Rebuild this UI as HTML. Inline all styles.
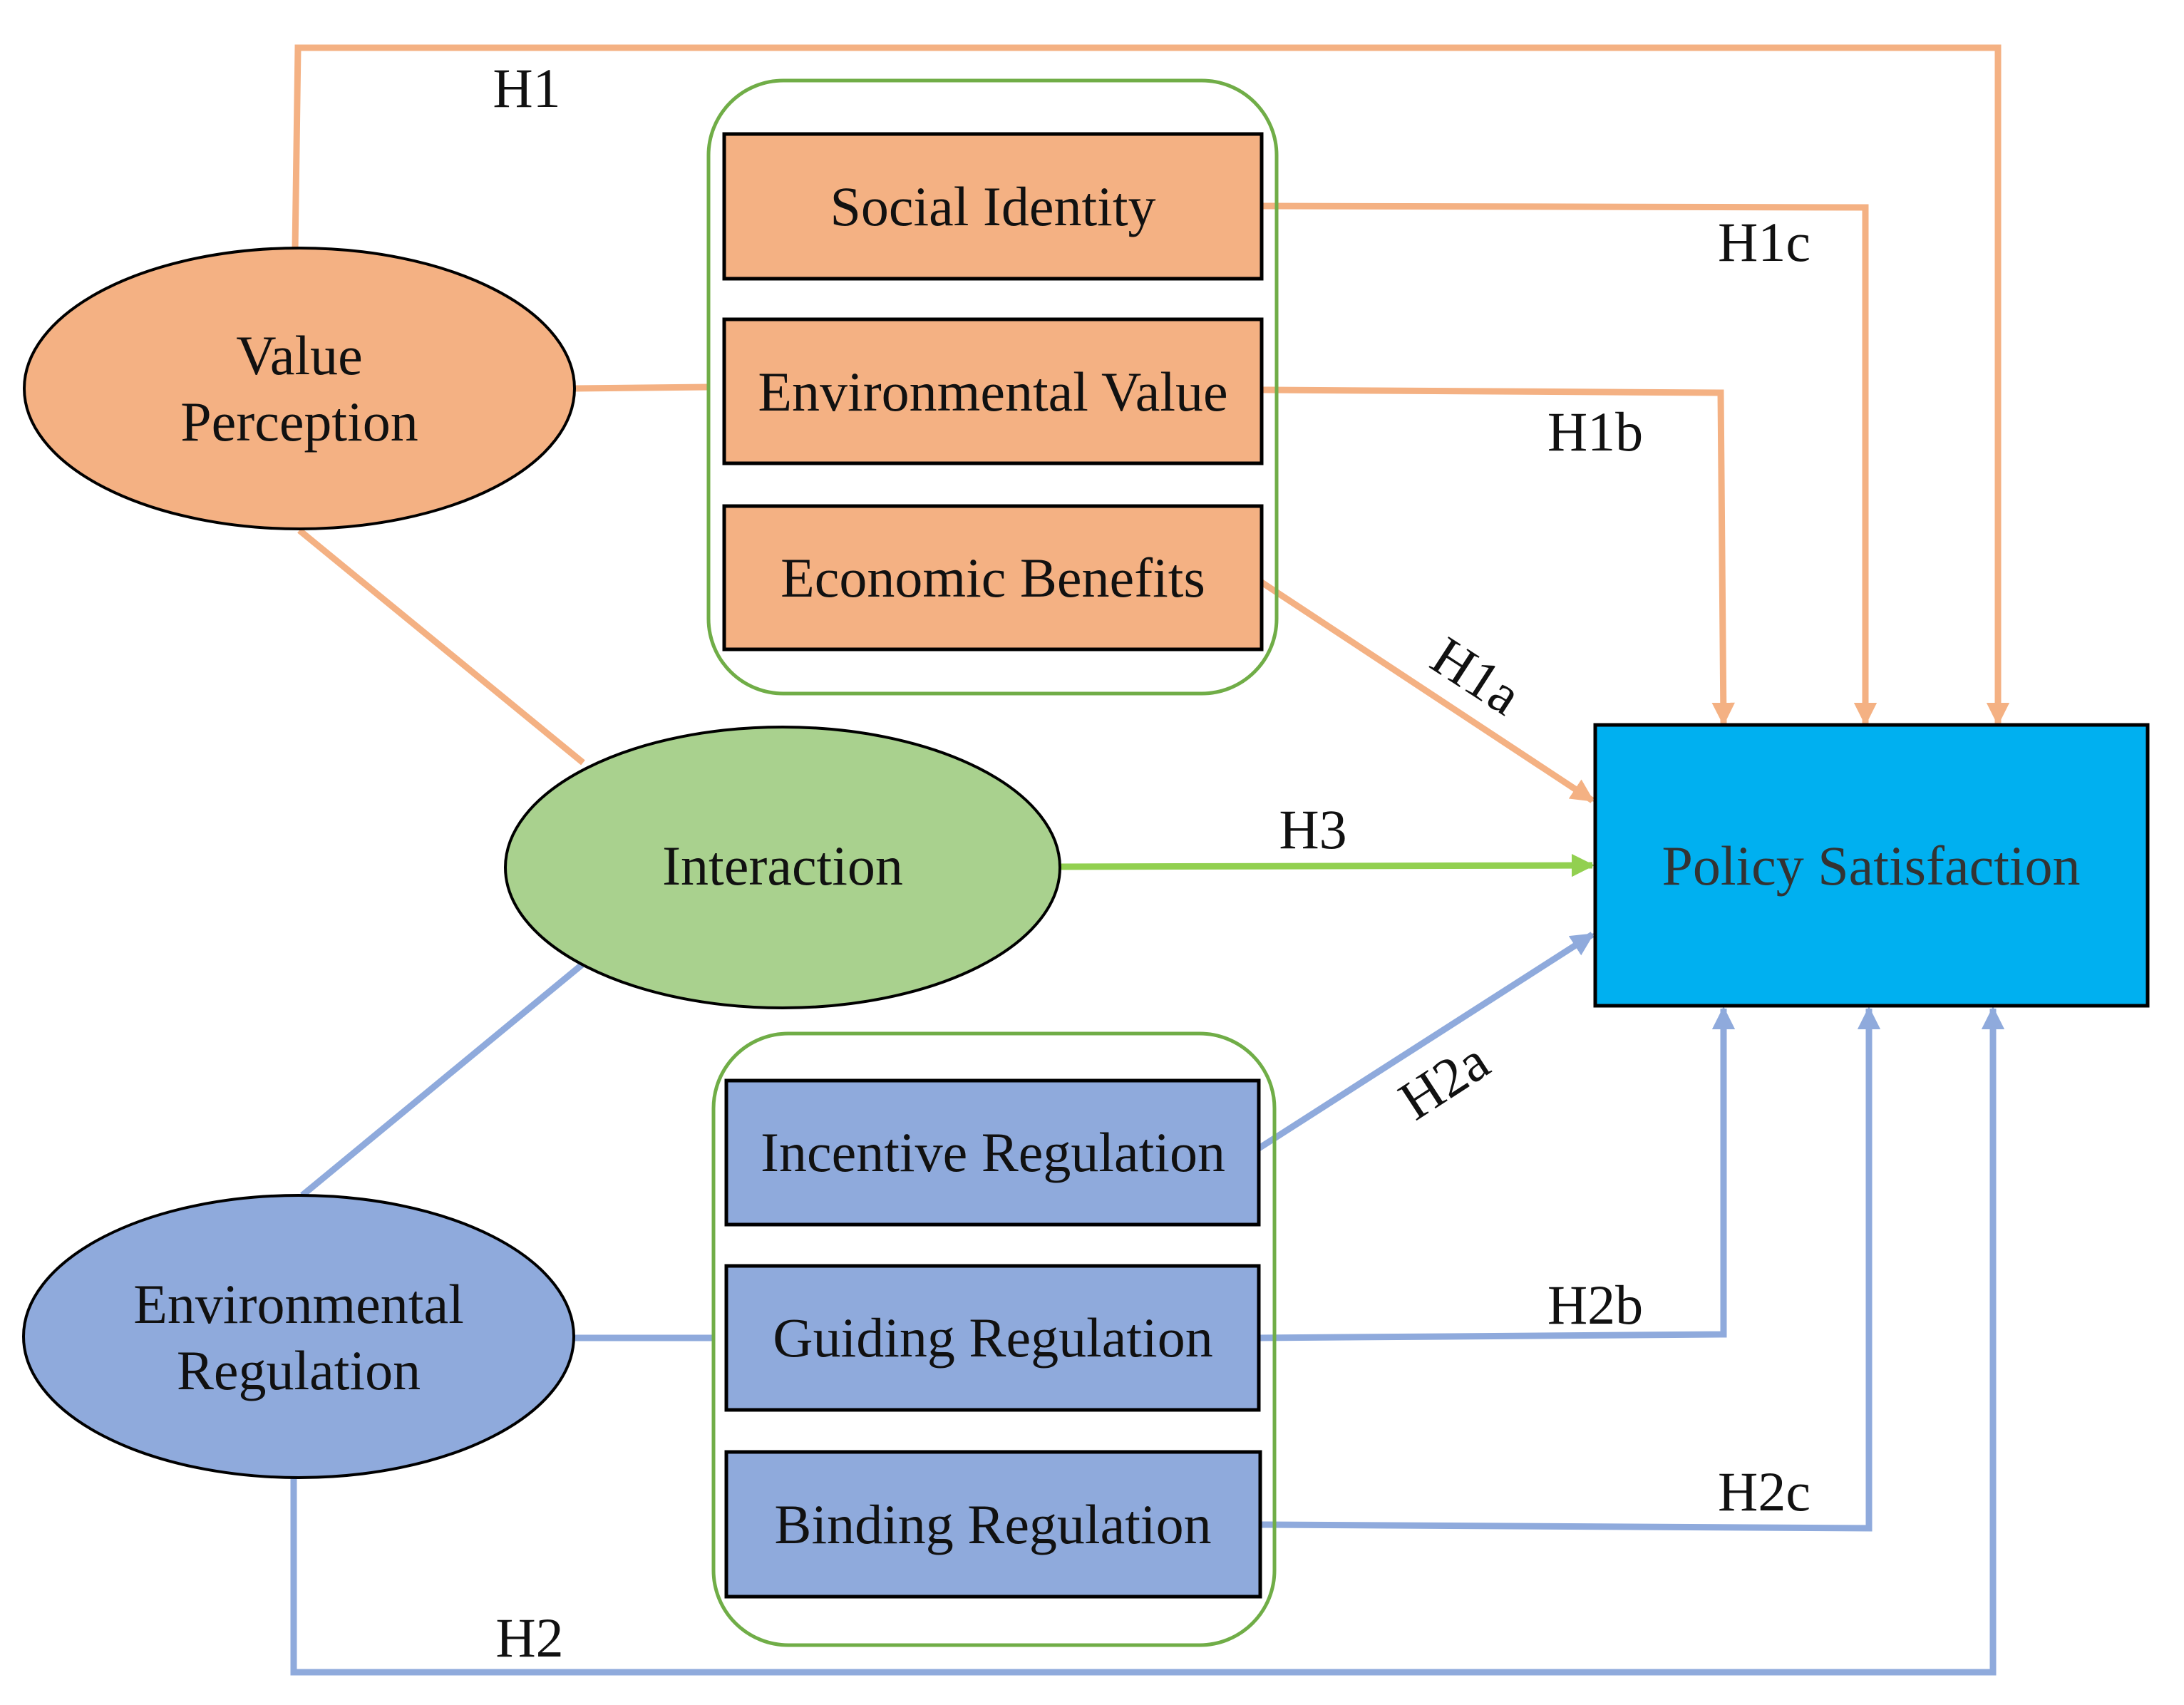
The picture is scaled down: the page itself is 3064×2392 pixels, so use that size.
<!DOCTYPE html>
<html><head><meta charset="utf-8"><style>
html,body{margin:0;padding:0;background:#fff}
svg{display:block}
text{font-family:"Liberation Serif",serif;fill:#111}
</style></head><body>
<svg width="3064" height="2392" viewBox="0 0 3064 2392" xmlns="http://www.w3.org/2000/svg">
<defs>
<marker id="ao" viewBox="0 0 10 10" refX="9" refY="5" markerWidth="3.6" markerHeight="3.6" orient="auto"><path d="M0,0L10,5L0,10z" fill="#F4B183"/></marker>
<marker id="ag" viewBox="0 0 10 10" refX="9" refY="5" markerWidth="3.6" markerHeight="3.6" orient="auto"><path d="M0,0L10,5L0,10z" fill="#92D050"/></marker>
<marker id="ab" viewBox="0 0 10 10" refX="9" refY="5" markerWidth="3.6" markerHeight="3.6" orient="auto"><path d="M0,0L10,5L0,10z" fill="#8FAADC"/></marker>
</defs>
<g fill="none" stroke-width="9" stroke-linejoin="miter">
<polyline points="414,350 418,67 2803,67 2803,1015" stroke="#F4B183" marker-end="url(#ao)"/>
<polyline points="1770,289 2617,291 2617,1015" stroke="#F4B183" marker-end="url(#ao)"/>
<polyline points="1770,547 2414,551 2418,1015" stroke="#F4B183" marker-end="url(#ao)"/>
<line x1="1764" y1="813" x2="2234" y2="1123" stroke="#F4B183" marker-end="url(#ao)"/>
<line x1="806" y1="545" x2="994" y2="543" stroke="#F4B183"/>
<line x1="420" y1="744" x2="818" y2="1070" stroke="#F4B183"/>
<line x1="1484" y1="1216" x2="2234" y2="1214" stroke="#92D050" marker-end="url(#ag)"/>
<line x1="1766" y1="1611" x2="2234" y2="1311" stroke="#8FAADC" marker-end="url(#ab)"/>
<polyline points="1766,1877 2418,1872 2418,1415" stroke="#8FAADC" marker-end="url(#ab)"/>
<polyline points="1769,2139 2622,2144 2622,1415" stroke="#8FAADC" marker-end="url(#ab)"/>
<polyline points="412,2072 412,2346 2796,2346 2796,1415" stroke="#8FAADC" marker-end="url(#ab)"/>
<line x1="805" y1="1877" x2="1003" y2="1877" stroke="#8FAADC"/>
<line x1="817" y1="1353" x2="424" y2="1677" stroke="#8FAADC"/>
</g>
<rect x="994" y="113" width="797" height="860" rx="105" fill="none" stroke="#70AD47" stroke-width="5"/>
<rect x="1001" y="1450" width="787" height="858" rx="105" fill="none" stroke="#70AD47" stroke-width="5"/>
<g fill="#F4B183" stroke="#000" stroke-width="5">
<rect x="1016" y="188" width="754" height="203"/>
<rect x="1016" y="448" width="754" height="202"/>
<rect x="1016" y="710" width="754" height="201"/>
</g>
<g fill="#8FAADC" stroke="#000" stroke-width="5">
<rect x="1019" y="1516" width="747" height="202"/>
<rect x="1019" y="1776" width="747" height="202"/>
<rect x="1019" y="2037" width="749" height="203"/>
</g>
<ellipse cx="420" cy="545" rx="386" ry="197" fill="#F4B183" stroke="#000" stroke-width="4"/>
<ellipse cx="1098" cy="1217" rx="389" ry="197" fill="#A9D18E" stroke="#000" stroke-width="4"/>
<ellipse cx="419" cy="1875" rx="386" ry="198" fill="#8FAADC" stroke="#000" stroke-width="4"/>
<rect x="2238" y="1017" width="775" height="394" fill="#00B0F0" stroke="#000" stroke-width="5"/>
<g font-size="78" text-anchor="middle">
<text x="1393" y="316">Social Identity</text>
<text x="1393" y="576">Environmental Value</text>
<text x="1393" y="837">Economic Benefits</text>
<text x="1393" y="1643">Incentive Regulation</text>
<text x="1393" y="1903">Guiding Regulation</text>
<text x="1393" y="2165">Binding Regulation</text>
<text x="420" y="525">Value</text>
<text x="420" y="618">Perception</text>
<text x="1098" y="1241">Interaction</text>
<text x="419" y="1856">Environmental</text>
<text x="419" y="1949">Regulation</text>
<text x="2625" y="1241" style="fill:#333">Policy Satisfaction</text>
<text x="739" y="150">H1</text>
<text x="2475" y="366">H1c</text>
<text x="2238" y="632">H1b</text>
<text x="1842" y="1190">H3</text>
<text x="2238" y="1857">H2b</text>
<text x="2475" y="2119">H2c</text>
<text x="743" y="2324">H2</text>
<text transform="translate(2057,970) rotate(33)">H1a</text>
<text transform="translate(2040,1538) rotate(-33)">H2a</text>
</g>
</svg>
</body></html>
